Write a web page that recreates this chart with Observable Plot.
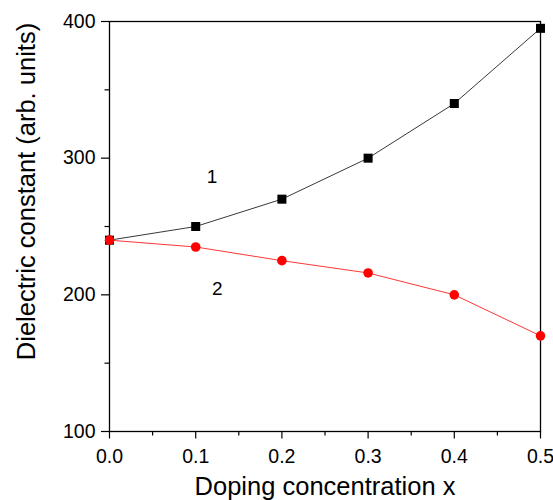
<!DOCTYPE html>
<html>
<head>
<meta charset="utf-8">
<script src="https://cdn.jsdelivr.net/npm/d3@7"></script>
<script src="https://cdn.jsdelivr.net/npm/@observablehq/plot@0.6"></script>
<style>
  html, body { margin: 0; padding: 0; background: #fff; }
  svg { font-family: "Liberation Sans", Arial, sans-serif; }
</style>
</head>
<body>
<div id="chart"></div>
<script>
const xValues = [0.0, 0.1, 0.2, 0.3, 0.4, 0.5];
const series1 = [240, 250, 270, 300, 340, 395];
const series2 = [240, 235, 225, 216, 200, 170];
const yMajorTicks = [100, 200, 300, 400];
const yMinorTicks = [150, 250, 350];
const xMajorTicks = [0.0, 0.1, 0.2, 0.3, 0.4, 0.5];
const xMinorTicks = [0.05, 0.15, 0.25, 0.35, 0.45];
const curveLabels = [
  {x: 0.119, y: 286, text: "1"},
  {x: 0.125, y: 204, text: "2"}
];
const xTitle = "Doping concentration x";
const yTitle = "Dielectric constant (arb. units)";

const d1 = xValues.map((x, i) => ({x, y: series1[i]}));
const d2 = xValues.map((x, i) => ({x, y: series2[i]}));

const chart = Plot.plot({
  width: 553,
  height: 500,
  marginLeft: 109,
  marginRight: 13,
  marginTop: 21,
  marginBottom: 69,
  style: {fontFamily: "'Liberation Sans', Arial, sans-serif", color: "#000", background: "#fff"},
  x: {domain: [0, 0.5]},
  y: {domain: [100, 400]},
  marks: [
    Plot.frame({stroke: "#000", strokeWidth: 1.3}),
    Plot.axisY({ticks: yMajorTicks, tickSize: 8, tickPadding: 6, fontSize: 19.5, label: null, strokeWidth: 1.2}),
    Plot.axisY({ticks: yMinorTicks, tickSize: 4.5, tickFormat: () => "", label: null, strokeWidth: 1.2}),
    Plot.axisX({ticks: xMajorTicks, tickSize: 7.5, tickPadding: 10.5, fontSize: 19.5, label: null, tickFormat: d3.format(".1f"), strokeWidth: 1.2}),
    Plot.axisX({ticks: xMinorTicks, tickSize: 4.5, tickFormat: () => "", label: null, strokeWidth: 1.2}),
    Plot.line(d1, {x: "x", y: "y", stroke: "#222", strokeWidth: 0.9}),
    Plot.line(d2, {x: "x", y: "y", stroke: "#ff2020", strokeWidth: 0.9}),
    Plot.dot(d1, {x: "x", y: "y", symbol: "square", r: 5.1, fill: "#000", stroke: "none"}),
    Plot.dot(d2, {x: "x", y: "y", symbol: "circle", r: 4.8, fill: "#ff0000", stroke: "none"}),
    Plot.text(curveLabels, {x: "x", y: "y", text: "text", fontSize: 19, fill: "#000"}),
    Plot.text([xTitle], {frameAnchor: "bottom", dy: 55, fontSize: 25.5, fill: "#000", lineAnchor: "middle"}),
    Plot.text([yTitle], {frameAnchor: "left", dx: -83, dy: -35, rotate: -90, fontSize: 25.5, fill: "#000", textAnchor: "middle", lineAnchor: "middle"})
  ]
});
document.getElementById("chart").appendChild(chart);
</script>
</body>
</html>
